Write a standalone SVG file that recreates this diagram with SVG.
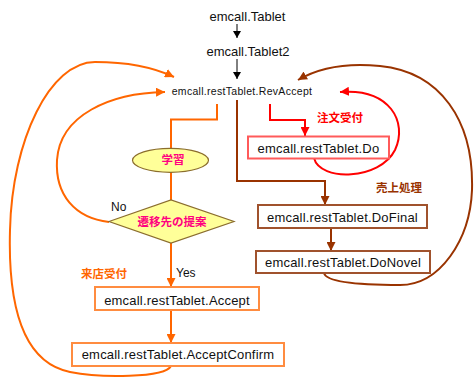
<svg xmlns="http://www.w3.org/2000/svg" width="474" height="378" viewBox="0 0 474 378">
<defs>
<style>
.t{font-family:"Liberation Sans",Arial,sans-serif;fill:#111;}
.bx{font-family:"Liberation Sans",Arial,sans-serif;font-size:13px;fill:#111;text-anchor:middle;letter-spacing:0.2px;}
.jp{font-family:"Noto Sans CJK JP",sans-serif;font-weight:bold;font-size:11.5px;}
.o{stroke:#ff6600;stroke-width:2;fill:none;}
.b{stroke:#993300;stroke-width:2;fill:none;}
.r{stroke:#ff0000;stroke-width:2;fill:none;}
.k{stroke:#000;stroke-width:1;fill:none;}
.ob{fill:#fff;stroke:#ff8c40;stroke-width:2;}
.bb{fill:#fff;stroke:#a0522d;stroke-width:2;}
.rb{fill:#fff;stroke:#ff5a5a;stroke-width:2;}
.dec{fill:#ffff99;stroke:#8b6d2e;stroke-width:1.2;}
</style>
<marker id="ak" markerUnits="userSpaceOnUse" markerWidth="7" markerHeight="8" refX="7" refY="4" orient="auto"><path d="M0,0 L7,4 L0,8 z" fill="#000"/></marker>
<marker id="ao" markerUnits="userSpaceOnUse" markerWidth="9" markerHeight="9" refX="9" refY="4.5" orient="auto"><path d="M0,0 L9,4.5 L0,9 z" fill="#ff6600"/></marker>
<marker id="ab" markerUnits="userSpaceOnUse" markerWidth="9" markerHeight="9" refX="9" refY="4.5" orient="auto"><path d="M0,0 L9,4.5 L0,9 z" fill="#993300"/></marker>
<marker id="ar" markerUnits="userSpaceOnUse" markerWidth="9" markerHeight="9" refX="9" refY="4.5" orient="auto"><path d="M0,0 L9,4.5 L0,9 z" fill="#ff0000"/></marker>
</defs>
<rect width="474" height="378" fill="#fff"/>

<g id="connectors">
<path class="k" d="M237,24 V38" marker-end="url(#ak)"/>
<path class="k" d="M237,59 V79" marker-end="url(#ak)"/>
<path class="o" d="M217,104 V119.5 H171 V148"/>
<path class="o" d="M171,172 V200"/>
<path class="o" d="M171,243 V287" marker-end="url(#ao)"/>
<path class="o" d="M171,310 V343" marker-end="url(#ao)"/>
<path class="o" d="M109,222 C75,218 55,195 57,160 C60,115 110,93 165,92" marker-end="url(#ao)"/>
<path class="o" d="M171,366 C165,378 100,378 70,372 C20,362 8,300 10,230 C12,140 50,62 95,62 C130,62 155,68 174,77" marker-end="url(#ao)"/>
<path class="b" d="M237,100 V181 H325 V205" marker-end="url(#ab)"/>
<path class="b" d="M331,228 V251" marker-end="url(#ab)"/>
<path class="b" d="M324,273 C326,282 360,285 400,285 C440,285 470,240 472,190 C474,120 440,72 380,66 C340,62 315,70 298,80" marker-end="url(#ab)"/>
<path class="r" d="M270,104 V120 H305 V136" marker-end="url(#ar)"/>
<path class="r" d="M314,158 C320,182 380,180 395,150 C408,122 390,88 340,92" marker-end="url(#ar)"/>
</g>

<g id="n-tablet"><text class="t" x="247.5" y="21" font-size="13" text-anchor="middle">emcall.Tablet</text></g>
<g id="n-tablet2"><text class="t" x="248" y="55.5" font-size="13" text-anchor="middle">emcall.Tablet2</text></g>
<g id="n-revaccept"><text class="t" x="242" y="95" font-size="10.5" letter-spacing="0.3" text-anchor="middle">emcall.restTablet.RevAccept</text></g>

<g id="n-learn"><ellipse class="dec" cx="170.5" cy="160.3" rx="38" ry="12"/><text class="jp" x="173" y="164" font-size="11" fill="#ff0080" text-anchor="middle">学習</text></g>
<g id="n-suggest"><polygon class="dec" points="109,221.5 171,200 234,221.5 171,243"/><text class="jp" x="172" y="226" font-size="11" fill="#ff0080" text-anchor="middle">遷移先の提案</text></g>

<g id="n-do"><rect class="rb" x="248" y="136.5" width="141" height="22"/><text class="bx" x="318.5" y="153">emcall.restTablet.Do</text></g>
<g id="n-dofinal"><rect class="bb" x="258" y="205" width="169" height="23"/><text class="bx" x="342.5" y="222">emcall.restTablet.DoFinal</text></g>
<g id="n-donovel"><rect class="bb" x="256" y="251" width="174" height="22"/><text class="bx" x="343" y="267">emcall.restTablet.DoNovel</text></g>
<g id="n-accept"><rect class="ob" x="95" y="287" width="164" height="23"/><text class="bx" x="177" y="304.5">emcall.restTablet.Accept</text></g>
<g id="n-acceptconfirm"><rect class="ob" x="72" y="343" width="212" height="23"/><text class="bx" x="178" y="359">emcall.restTablet.AcceptConfirm</text></g>

<g id="labels">
<text class="t" x="111" y="211" font-size="12">No</text>
<text class="t" x="176" y="277" font-size="12">Yes</text>
<text class="jp" x="81" y="278" fill="#ff6600">来店受付</text>
<text class="jp" x="317" y="122" fill="#ff0000">注文受付</text>
<text class="jp" x="376" y="192" fill="#993300">売上処理</text>
</g>
</svg>
